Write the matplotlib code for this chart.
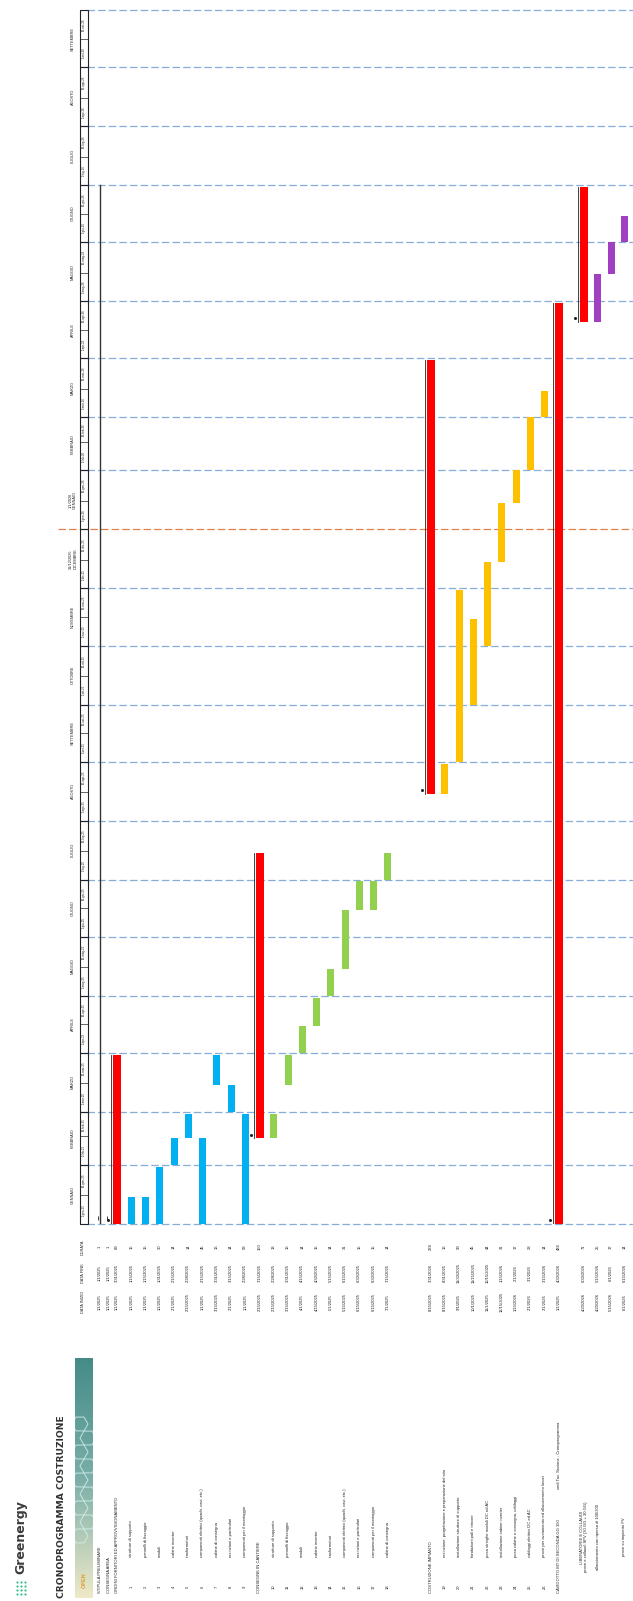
"""
Cronoprogramma costruzione (Gantt ruotato di 90 gradi).
Output: out.png
"""
import datetime as dt

import matplotlib
matplotlib.use("Agg")
import matplotlib.pyplot as plt
import matplotlib.dates as mdates
import matplotlib.transforms as mtransforms
from matplotlib.patches import Rectangle, RegularPolygon
import numpy as np

plt.rcParams['font.family'] = ['Liberation Sans', 'DejaVu Sans']

W, H = 633, 1601

# ---------------- dati ----------------
ROW_KINDS = (["ms", "ms", "sum"] + ["t1"] * 9 + ["sum"] + ["t2"] * 9
             + ["blank", "blank", "sum"] + ["t3"] * 8
             + ["sum", "blank", "sum"] + ["t4"] * 3)

ROW_NUMS = ["", "", "",
            "1", "2", "3", "4", "5", "6", "7", "8", "9",
            "",
            "10", "11", "12", "13", "14", "15", "16", "17", "18",
            "", "", "",
            "19", "20", "21", "22", "23", "24", "25", "26",
            "", "", "", "", "", ""]

ROW_NAMES = [
    "STIPULA PRELIMINARE", "CONSEGNA AREA",
    "ORDINI FORNITORI ED APPROVVIGIONAMENTO",
    "strutture di supporto", "pannelli di fissaggio", "moduli", "cabine inverter",
    "trasformatori", "componenti elettrici (quadri, cavi, etc.)",
    "cabine di consegna", "recinzioni e particolari", "componenti per il montaggio",
    "CONSEGNE IN CANTIERE",
    "strutture di supporto", "pannelli di fissaggio", "moduli", "cabine inverter",
    "trasformatori", "componenti elettrici (quadri, cavi, etc.)",
    "recinzioni e particolari", "componenti per il montaggio", "cabine di consegna",
    "", "", "COSTRUZIONE IMPIANTO",
    "recinzione, progettazione e preparazione del sito",
    "installazione strutture di supporto", "fondazioni pali e trincee",
    "posa stringhe moduli DC ed AC", "installazione cabine inverter",
    "posa cabine e consegna, cablaggi", "cablaggi elettrici DC ed AC",
    "prove per avviamento ed allacciamento lavori",
    "CAVIDOTTO MT DI SECONDA GG 150", "",
    "LIBERATORIE E COLLAUDI\nprove e collaudi SPV (30 GG + 30 GG)",
    "allacciamento con ripresa di 100/300", "", "prove su impianto FV",
]
ROW_NOTES = {33: "vedi Tav. Sezione - Cronoprogramma"}

START_DATES = [
    "1/1/2025", "1/1/2025", "1/1/2025",
    "1/1/2025", "1/1/2025", "1/1/2025", "2/1/2025", "2/15/2025",
    "1/1/2025", "3/15/2025", "3/1/2025", "1/1/2025",
    "2/15/2025",
    "2/15/2025", "3/15/2025", "4/1/2025", "4/15/2025", "5/1/2025",
    "5/15/2025", "6/15/2025", "6/15/2025", "7/1/2025",
    "", "", "8/15/2025",
    "8/15/2025", "9/1/2025", "10/1/2025", "11/1/2025", "12/15/2025",
    "1/15/2026", "2/1/2026", "3/1/2026",
    "1/1/2025", "", "4/20/2026",
    "4/20/2026", "5/15/2026", "6/1/2026",
]
END_DATES = [
    "1/1/2025", "1/1/2025", "3/31/2025",
    "1/15/2025", "1/15/2025", "1/31/2025", "2/15/2025", "2/28/2025",
    "2/15/2025", "3/31/2025", "3/15/2025", "2/28/2025",
    "7/15/2025",
    "2/28/2025", "3/31/2025", "4/15/2025", "4/30/2025", "5/15/2025",
    "6/15/2025", "6/30/2025", "6/30/2025", "7/15/2025",
    "", "", "3/31/2026",
    "8/31/2025", "11/30/2025", "11/15/2025", "12/15/2025", "1/15/2026",
    "2/1/2026", "3/1/2026", "3/15/2026",
    "4/30/2026", "", "6/30/2026",
    "5/15/2026", "6/1/2026", "6/15/2026",
]
DURATIONS = [
    "1", "1", "89",
    "15", "15", "30", "14", "14", "45", "16", "14", "58",
    "150",
    "13", "16", "14", "15", "14", "31", "15", "15", "14",
    "", "", "228",
    "16", "90", "45", "44", "31", "17", "28", "14",
    "484", "", "71",
    "25", "17", "14",
]

PROJECT_START = "1/1/2025"
PROJECT_END = "7/1/2026"

MONTHS_IT = ["GENNAIO", "FEBBRAIO", "MARZO", "APRILE", "MAGGIO", "GIUGNO",
             "LUGLIO", "AGOSTO", "SETTEMBRE", "OTTOBRE", "NOVEMBRE", "DICEMBRE"]
MONTHS_ABBR = ["gen", "feb", "mar", "apr", "mag", "giu",
               "lug", "ago", "set", "ott", "nov", "dic"]
YEAR_CHANGE_LABELS = {(2025, 12): "31/12/2025\nDICEMBRE", (2026, 1): "1/1/2026\nGENNAIO"}

TIME_START = dt.date(2025, 1, 1)
TIME_END = dt.date(2026, 10, 1)

# ---------------- colori ----------------
KIND_COLORS = {"sum": "#FF0000", "t1": "#00B0F0", "t2": "#92D050",
               "t3": "#FFC000", "t4": "#A040C0"}
GRID_BLUE = "#86AEDB"
GRID_ORANGE = "#E3804A"
TEXT_COLOR = "#222222"


def parse(s):
    m, d, y = (int(v) for v in s.split("/"))
    return mdates.date2num(dt.date(y, m, d))


def row_x(i):
    # posizione orizzontale (px) della riga i
    if i == 0:
        return 100.0
    if i == 1:
        return 108.5
    if i >= 35:
        return 584.0 + 13.5 * (i - 35)
    return 117.0 + 14.25 * (i - 2)


def fx(px):
    return px / W


def fy(py):
    return 1 - py / H


fig = plt.figure(figsize=(W / 100, H / 100), dpi=100)

CH_TOP, CH_BOT, CH_LEFT = 10, 1224, 88
ax = fig.add_axes([fx(CH_LEFT), fy(CH_BOT), fx(W - CH_LEFT), (CH_BOT - CH_TOP) / H])
ax.set_xlim(CH_LEFT, W)
ax.set_ylim(mdates.date2num(TIME_START), mdates.date2num(TIME_END))
ax.axis("off")

tr_rows = mtransforms.blended_transform_factory(ax.transData, fig.transFigure)
tr_dates = mtransforms.blended_transform_factory(fig.transFigure, ax.transData)

# ---- linee mensili ----
month_starts = [dt.date(2025 + m // 12, m % 12 + 1, 1) for m in range(22)]
for d in month_starts:
    y = mdates.date2num(d)
    if d == dt.date(2026, 1, 1):
        ax.plot([fx(58), 1], [y, y], transform=tr_dates, color=GRID_ORANGE,
                ls=(0, (6, 2.5)), lw=0.9, clip_on=False, zorder=1)
    else:
        ax.plot([fx(87), 1], [y, y], transform=tr_dates, color=GRID_BLUE,
                ls=(0, (6, 2.5)), lw=0.9, clip_on=False, zorder=1)

# ---- intestazione mesi ----
for d0, d1 in zip(month_starts[:-1], month_starts[1:]):
    y0, y1 = mdates.date2num(d0), mdates.date2num(d1)
    ymid = mdates.date2num(dt.date(d0.year, d0.month, 16))
    for a, b, day in [(y0, ymid, 1), (ymid, y1, 16)]:
        ax.add_patch(Rectangle((fx(80), a), fx(8), b - a, transform=tr_dates,
                               facecolor="white", edgecolor="#444444", lw=0.5,
                               clip_on=False, zorder=2))
        ax.text(fx(84), (a + b) / 2,
                f"{day}-{MONTHS_ABBR[d0.month - 1]}-{d0.year % 100}",
                transform=tr_dates, rotation=90, ha="center", va="center",
                fontsize=2.2, color=TEXT_COLOR, zorder=3)
    ax.add_patch(Rectangle((fx(80), y0), fx(8), y1 - y0, transform=tr_dates,
                           facecolor="none", edgecolor="#222222", lw=0.8,
                           clip_on=False, zorder=3))
    label = YEAR_CHANGE_LABELS.get((d0.year, d0.month), MONTHS_IT[d0.month - 1])
    ax.text(fx(73), (y0 + y1) / 2, label, transform=tr_dates, rotation=90,
            ha="center", va="center", fontsize=2.8, color=TEXT_COLOR,
            linespacing=1.1)

# ---- linea durata progetto ----
ax.plot([100, 100], [parse(PROJECT_START), parse(PROJECT_END)], color="#333333",
        lw=1.0, zorder=4)

# ---- barre ----
for i, kind in enumerate(ROW_KINDS):
    if kind == "blank":
        continue
    x = row_x(i)
    s, e = parse(START_DATES[i]), parse(END_DATES[i])
    if kind == "ms":
        ax.plot(x - 2, s + 3, marker="|", ms=2.5, color="#222222", mew=0.6, zorder=5)
        continue
    width = 8 if kind == "sum" else 7
    ax.bar(x, e - s, bottom=s, width=width, color=KIND_COLORS[kind],
           linewidth=0, zorder=4)
    if kind == "sum":
        ax.plot([x - 6, x - 6], [s, e], color="#222222", lw=0.6, zorder=5)
        ax.plot(x - 9, s + 2, marker="o", ms=1.2, color="#222222", zorder=5)

# ---- tabella attivita ----
NUM_Y, NAME_Y, HEAD_Y, CENTER_Y = 1587, 1557, 1593, 1537
INIZIO_Y, FINE_Y, DUR_Y = 1302, 1273, 1247
TFS = 3.0

for py, lab in [(INIZIO_Y, "DATA INIZIO"), (FINE_Y, "DATA FINE"), (DUR_Y, "DURATA")]:
    fig.text(fx(83), fy(py), lab, rotation=90, ha="center", va="center",
             fontsize=2.8, color=TEXT_COLOR)

for i, kind in enumerate(ROW_KINDS):
    if kind == "blank":
        continue
    x = row_x(i)
    if ROW_NUMS[i]:
        ax.text(x, fy(NUM_Y), ROW_NUMS[i], transform=tr_rows, rotation=90,
                ha="center", va="center", fontsize=TFS, color=TEXT_COLOR)
    if kind == "t4" or "\n" in ROW_NAMES[i]:
        ax.text(x, fy(CENTER_Y), ROW_NAMES[i], transform=tr_rows, rotation=90,
                ha="center", va="center", fontsize=TFS, color=TEXT_COLOR,
                linespacing=1.3)
    elif kind in ("ms", "sum"):
        ax.text(x, fy(HEAD_Y), ROW_NAMES[i], transform=tr_rows, rotation=90,
                rotation_mode="anchor", ha="left", va="center",
                fontsize=TFS, color=TEXT_COLOR)
    else:
        ax.text(x, fy(NAME_Y), ROW_NAMES[i], transform=tr_rows, rotation=90,
                rotation_mode="anchor", ha="left", va="center",
                fontsize=TFS, color=TEXT_COLOR)
    if i in ROW_NOTES:
        ax.text(x, fy(1489), ROW_NOTES[i], transform=tr_rows, rotation=90,
                rotation_mode="anchor", ha="left", va="center",
                fontsize=TFS, color=TEXT_COLOR)
    for py, val in [(INIZIO_Y, START_DATES[i]), (FINE_Y, END_DATES[i]),
                    (DUR_Y, DURATIONS[i])]:
        ax.text(x, fy(py), val, transform=tr_rows, rotation=90,
                ha="center", va="center", fontsize=TFS, color=TEXT_COLOR)

# ---- banner e titolo ----
B_TOP, B_BOT = 1358, 1598
bax = fig.add_axes([fx(75), fy(B_BOT), fx(18), (B_BOT - B_TOP) / H])
bax.set_xlim(0, 18)
bax.set_ylim(0, B_BOT - B_TOP)
bax.axis("off")
top_c = np.array([0x45, 0x8C, 0x89]) / 255
mid_c = np.array([0x7A, 0xAE, 0xA8]) / 255
bot_c = np.array([0xEE, 0xE9, 0xC8]) / 255
t = np.linspace(0, 1, 200)[:, None]
grad = np.where(t < 0.5, bot_c + (mid_c - bot_c) * (t / 0.5),
                mid_c + (top_c - mid_c) * ((t - 0.5) / 0.5))
bax.imshow(grad[:, None, :], extent=[0, 18, 0, B_BOT - B_TOP], origin="lower",
           aspect="auto")
for k in range(9):
    bax.add_patch(RegularPolygon((5 if k % 2 == 0 else 13, 62 + 14 * k),
                                 numVertices=6, radius=8, orientation=np.pi / 6,
                                 facecolor="none", edgecolor="#D8F4F1", lw=0.7,
                                 alpha=0.8))
bax.text(9, 18, "OPEN", rotation=90, ha="center", va="center", fontsize=4,
         color="#E0A030", fontweight="bold")

fig.text(fx(62), fy(1598), "CRONOPROGRAMMA COSTRUZIONE", rotation=90,
         rotation_mode="anchor", ha="left", va="center", fontsize=6.6,
         fontweight="bold", color="#333333", family="DejaVu Sans")

# logo
lax = fig.add_axes([fx(14), fy(1597), fx(14), 18 / H])
lax.set_xlim(0, 14)
lax.set_ylim(0, 18)
lax.axis("off")
gx, gy = np.meshgrid([3, 7, 11], [3, 7, 11, 15])
lax.scatter(gx.ravel(), gy.ravel(), s=2.5, color="#3DBE8B", linewidths=0)
fig.text(fx(21), fy(1574), "Greenergy", rotation=90, rotation_mode="anchor",
         ha="left", va="center", fontsize=9, fontweight="bold", color="#3B3B3B",
         family="DejaVu Sans")

fig.savefig("out.png", dpi=100)
plt.close(fig)
